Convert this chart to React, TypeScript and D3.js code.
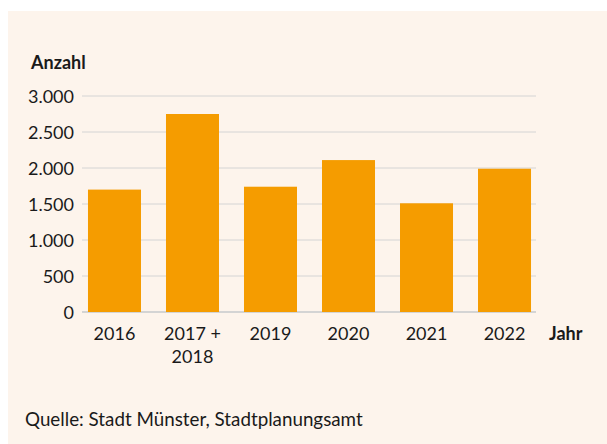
import React from 'react';
import * as d3 from 'd3';

const years = ['2016', '2017 + 2018', '2019', '2020', '2021', '2022'];
const counts = [1700, 2750, 1740, 2110, 1510, 1990];
const yTicks = [0, 500, 1000, 1500, 2000, 2500, 3000];

const width = 607;
const height = 444;
const font = 'Lato, "Noto Sans", sans-serif';
const fmt = (v: number) => d3.format(',')(v).replace(/,/g, '.');

const App: React.FC = () => {
	const x = d3
		.scaleBand<string>()
		.domain(years)
		.range([75.5, 543.5])
		.paddingInner(0.3205)
		.paddingOuter(0.16);
	const y = d3.scaleLinear().domain([0, 3000]).range([312, 96]);

	return (
		<svg
			width={width}
			height={height}
			style={{ position: 'absolute', left: 0, top: 0 }}
			fontFamily={font}
		>
			<rect x={8} y={11} width={width - 8} height={height - 11} fill='#fdf4ec' />
			<text x={31} y={69} fontSize={18} fontWeight='bold' fill='#1a1a1a'>
				Anzahl
			</text>
			{/* Gitternetz */}
			{yTicks.map((t) => (
				<g key={t}>
					<line
						x1={82}
						x2={536}
						y1={y(t)}
						y2={y(t)}
						stroke='#d4d4d4'
						strokeWidth={t === 0 ? 2 : 1}
					/>
					<text x={74} y={y(t) + 6.5} textAnchor='end' fontSize={18} fill='#1a1a1a'>
						{fmt(t)}
					</text>
				</g>
			))}
			{years.map((yr, i) => (
				<rect
					key={yr}
					x={x(yr)}
					y={y(counts[i])}
					width={x.bandwidth()}
					height={y(0) - y(counts[i])}
					fill='#f59c00'
				/>
			))}
			{years.map((yr) => {
				const cx = (x(yr) ?? 0) + x.bandwidth() / 2;
				const lines = yr.includes('+') ? ['2017 +', '2018'] : [yr];
				return (
					<text key={yr} x={cx} y={339.5} textAnchor='middle' fontSize={18} fill='#1a1a1a'>
						{lines.map((l, j) => (
							<tspan key={j} x={cx} dy={j === 0 ? 0 : 23.5}>
								{l}
							</tspan>
						))}
					</text>
				);
			})}
			<text x={549} y={339.5} fontSize={18} fontWeight='bold' fill='#1a1a1a'>
				Jahr
			</text>
			<text x={25} y={426} fontSize={18.8} fill='#1a1a1a'>
				Quelle: Stadt Münster, Stadtplanungsamt
			</text>
		</svg>
	);
};

export default App;
